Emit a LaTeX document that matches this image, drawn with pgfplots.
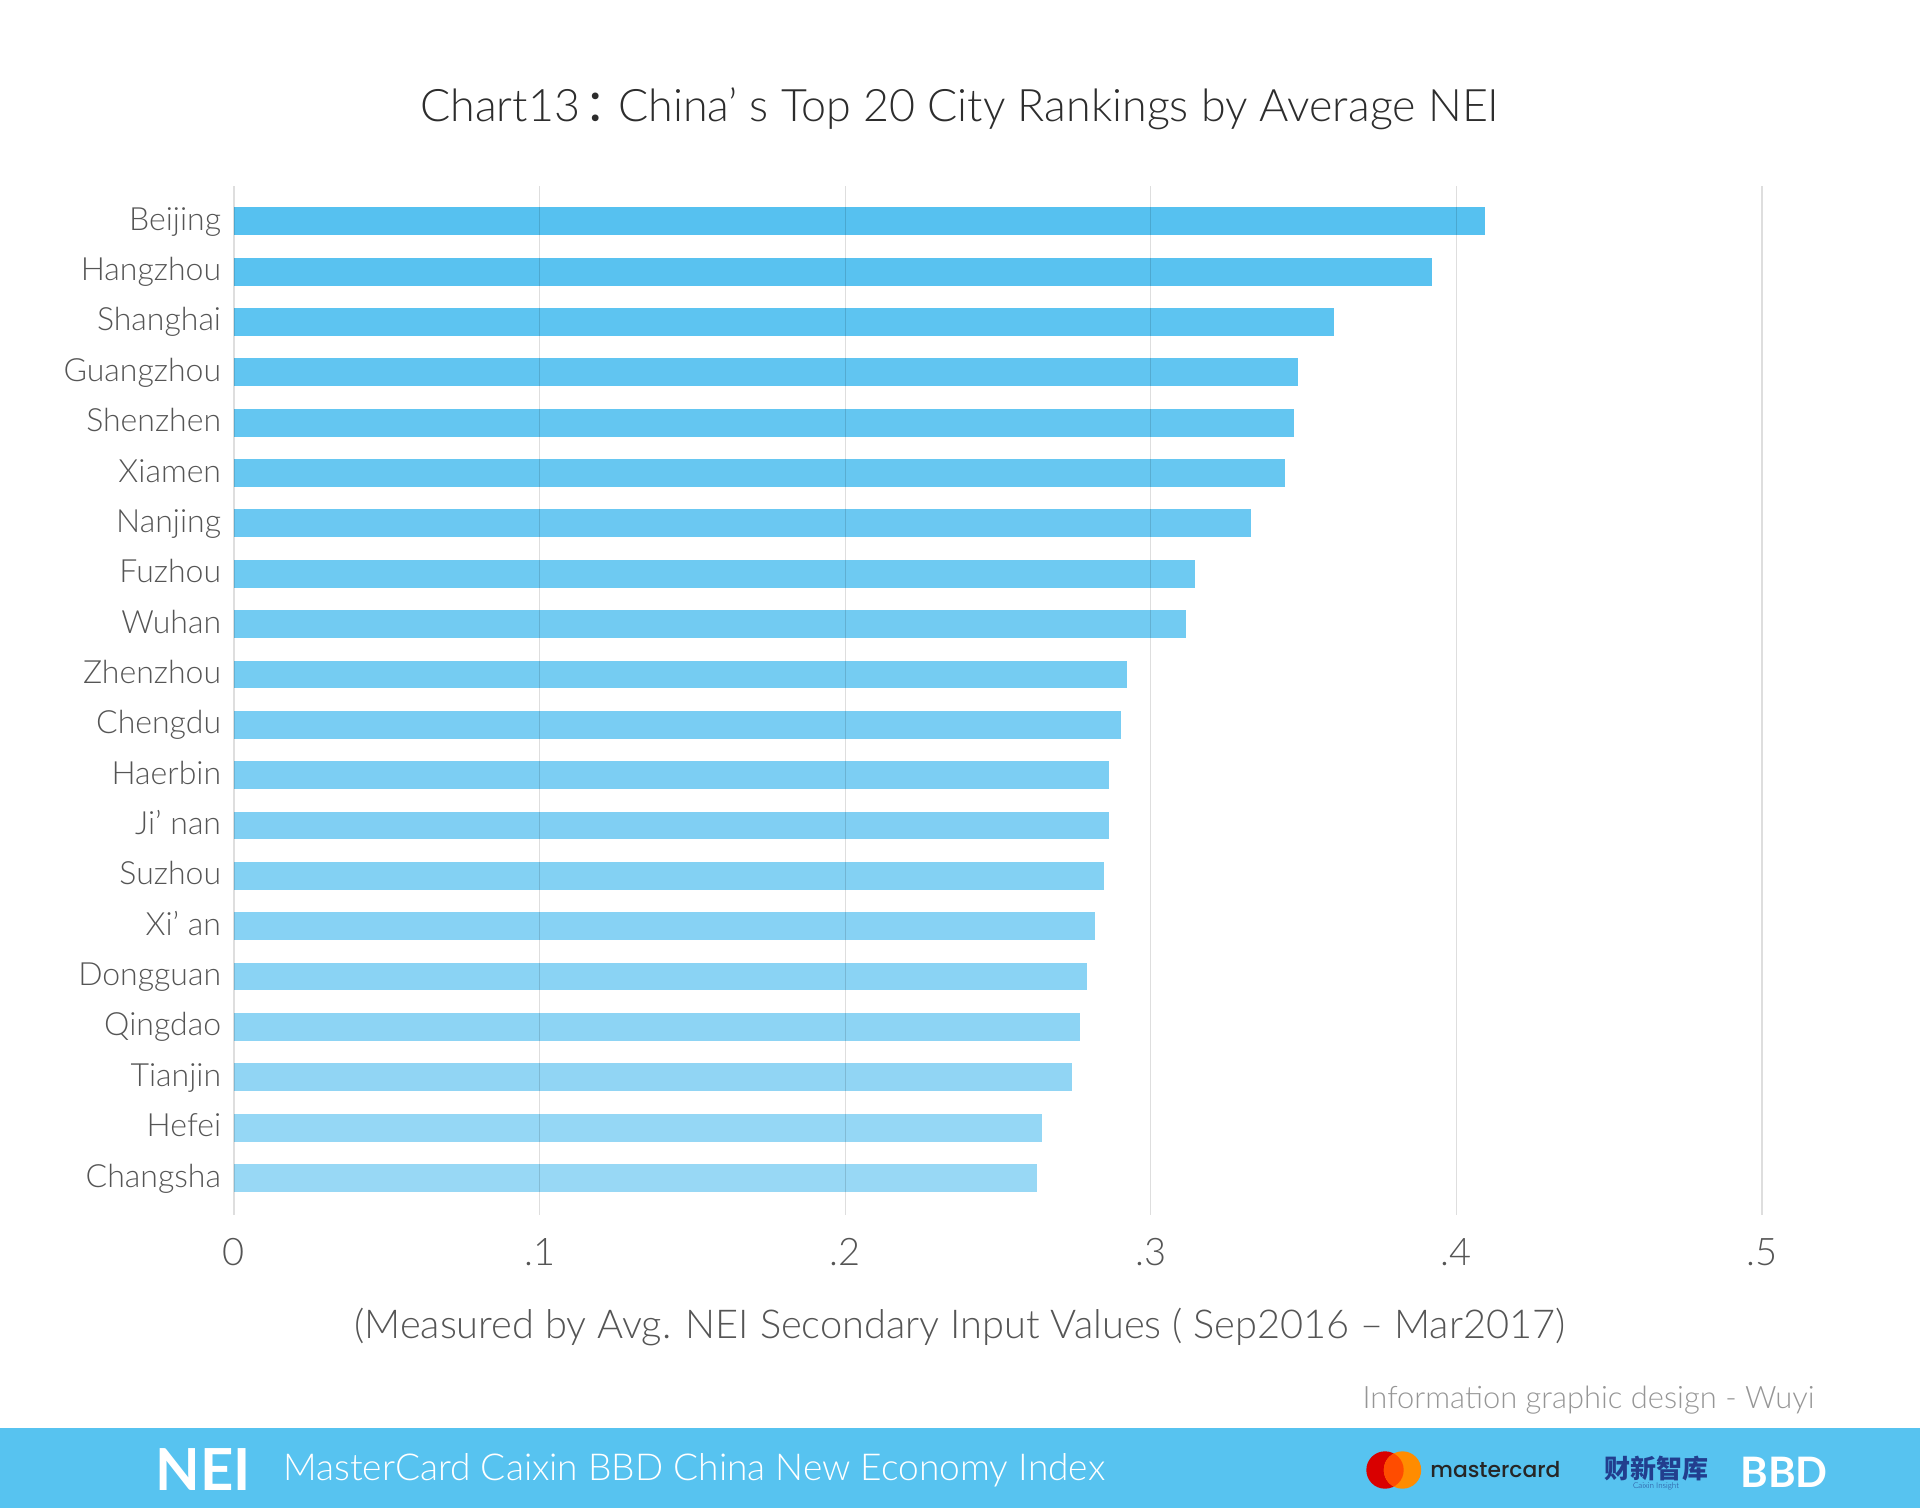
\documentclass[border=0pt]{standalone}
\usepackage{pgfplots}
\pgfplotsset{compat=1.18}
\usepackage{fontspec}
\IfFontExistsTF{Lato Light}
  {\setmainfont{Lato}[UprightFont=* Light, BoldFont=* Bold]}
  {\setmainfont{Lato}}
\newfontfamily\cjk{Noto Sans CJK SC}
\IfFontExistsTF{Poppins Medium}
  {\newfontfamily\pop{Poppins Medium}}
  {\newfontfamily\pop{Poppins}}
\newcommand{\fs}[1]{\fontsize{#1}{1.2\dimexpr#1\relax}\selectfont}

\definecolor{barTop}{RGB}{86,193,240}
\definecolor{barBot}{RGB}{152,216,245}
\definecolor{band}{RGB}{87,195,240}
\definecolor{titlegray}{RGB}{45,45,45}
\definecolor{labgray}{RGB}{85,85,85}
\definecolor{infogray}{RGB}{150,150,150}
\definecolor{cxblue}{RGB}{34,62,142}

\begin{document}
\begin{tikzpicture}
\path[use as bounding box] (0,0) rectangle (960pt,-754pt);

\begin{axis}[
  at={(117pt,-93pt)}, anchor=north west,
  scale only axis, width=764pt, height=514.5pt,
  xbar, bar width=13.9pt,
  xmin=0, xmax=0.5, ymin=-0.7, ymax=19.735, y dir=reverse,
  axis line style={draw=none},
  axis on top,
  xmajorgrids, major grid style={black, opacity=0.13, line width=0.6pt},
  tick style={draw=none},
  xtick={0,0.1,0.2,0.3,0.4,0.5},
  xticklabels={0,.1,.2,.3,.4,.5},
  ytick={0,...,19},
  yticklabels={Beijing,Hangzhou,Shanghai,Guangzhou,Shenzhen,Xiamen,Nanjing,Fuzhou,Wuhan,Zhenzhou,Chengdu,Haerbin,Ji’ nan,Suzhou,Xi’ an,Dongguan,Qingdao,Tianjin,Hefei,Changsha},
  xticklabel style={font=\fs{19pt}, text=labgray, anchor=base, inner sep=0pt, yshift=-25pt},
  yticklabel style={font=\fs{16pt}, text=labgray, anchor=base east, inner sep=0pt, xshift=-2pt, yshift=-4.5pt},
  title={Chart13{\cjk\kern0.1em：\kern-0.25em}China’ s Top 20 City Rankings by Average NEI},
  title style={at={(rel axis cs:0.475,1)}, anchor=base, inner sep=0pt, yshift=26.5pt, font=\fs{22.4pt}, text=titlegray},
  xlabel={(Measured by Avg. NEI Secondary Input Values ( Sep2016 – Mar2017)},
  xlabel style={at={(rel axis cs:0.475,0)}, anchor=base, inner sep=0pt, yshift=-61.5pt, font=\fs{19.9pt}, text=labgray},
  cb/.style={fill=#1, draw=none, bar shift=0pt},
]
\addplot[cb={barTop!100!barBot}] coordinates {(0.4095,0)};
\addplot[cb={barTop!95!barBot}] coordinates {(0.3921,1)};
\addplot[cb={barTop!89!barBot}] coordinates {(0.3598,2)};
\addplot[cb={barTop!84!barBot}] coordinates {(0.3480,3)};
\addplot[cb={barTop!79!barBot}] coordinates {(0.3467,4)};
\addplot[cb={barTop!74!barBot}] coordinates {(0.3440,5)};
\addplot[cb={barTop!68!barBot}] coordinates {(0.3327,6)};
\addplot[cb={barTop!63!barBot}] coordinates {(0.3146,7)};
\addplot[cb={barTop!58!barBot}] coordinates {(0.3114,8)};
\addplot[cb={barTop!53!barBot}] coordinates {(0.2921,9)};
\addplot[cb={barTop!47!barBot}] coordinates {(0.2904,10)};
\addplot[cb={barTop!42!barBot}] coordinates {(0.2863,11)};
\addplot[cb={barTop!37!barBot}] coordinates {(0.2863,12)};
\addplot[cb={barTop!32!barBot}] coordinates {(0.2846,13)};
\addplot[cb={barTop!26!barBot}] coordinates {(0.2816,14)};
\addplot[cb={barTop!21!barBot}] coordinates {(0.2791,15)};
\addplot[cb={barTop!16!barBot}] coordinates {(0.2767,16)};
\addplot[cb={barTop!11!barBot}] coordinates {(0.2741,17)};
\addplot[cb={barTop!5!barBot}] coordinates {(0.2643,18)};
\addplot[cb={barTop!0!barBot}] coordinates {(0.2626,19)};
\end{axis}

\begin{scope}[x=0.5pt, y=-0.5pt]
  % credit line
  \node[anchor=base east, inner sep=0pt, font=\fs{15.45pt}, text=infogray] at (1815,1408) {Information graphic design - Wuyi};
  % footer band
  \fill[band] (0,1428) rectangle (1920,1508);
  \node[anchor=base west, inner sep=0pt, font=\bfseries\fs{29pt}, text=white] at (155,1490) {NEI};
  \node[anchor=base west, inner sep=0pt, font=\fs{18.55pt}, text=white] at (283,1480) {MasterCard Caixin BBD China New Economy Index};
  % mastercard mark
  \fill[red!85!black] (1385,1470) circle (18.7);
  \fill[orange!90!yellow] (1402.5,1470) circle (18.7);
  \begin{scope}
    \clip (1385,1470) circle (18.7);
    \fill[orange!60!red] (1402.5,1470) circle (18.7);
  \end{scope}
  \node[anchor=base west, inner sep=0pt, font=\pop\fs{10.9pt}, text=black!85] at (1430,1477) {mastercard};
  \node[inner sep=0pt, font=\cjk\bfseries\fs{13pt}, text=cxblue] at (1656.5,1468.5) {财新智库};
  \node[inner sep=0pt, font=\fs{4pt}, text=cxblue] at (1656,1486) {Caixin Insight};
  \node[inner sep=0pt, font=\bfseries\fs{21pt}, text=white] at (1784,1472) {BBD};
\end{scope}
\end{tikzpicture}
\end{document}
